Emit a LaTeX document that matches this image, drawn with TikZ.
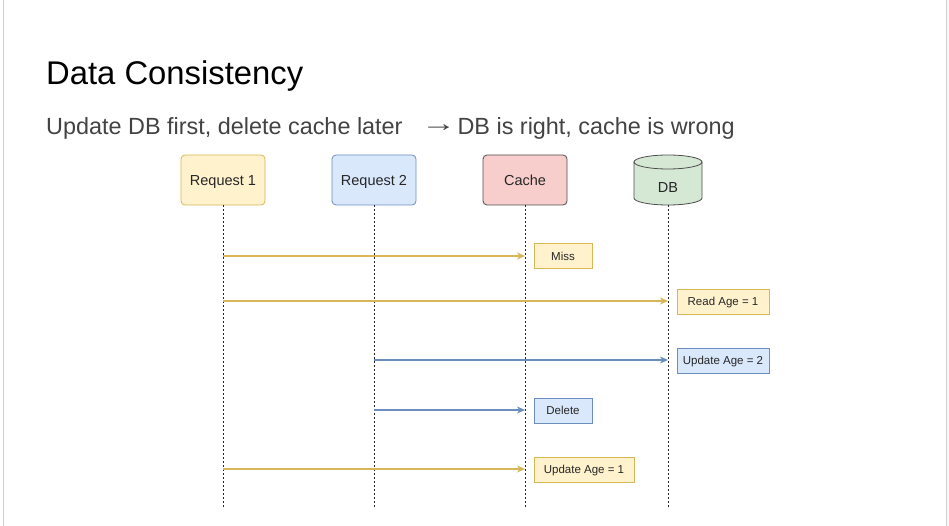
\documentclass[tikz,border=0pt]{standalone}
\usepackage{fontspec}
\setmainfont{Liberation Sans}
\usetikzlibrary{arrows.meta}

\definecolor{ylwfill}{HTML}{FFF2CC}
\definecolor{ylwline}{HTML}{D6B656}
\definecolor{blufill}{HTML}{DAE8FC}
\definecolor{bluline}{HTML}{6C8EBF}
\definecolor{redfill}{HTML}{F8CECC}
\definecolor{grnfill}{HTML}{D5E8D4}
\definecolor{darkline}{HTML}{4D4D4D}
\definecolor{subtext}{HTML}{434343}
\definecolor{framegray}{HTML}{D0D0D0}
\definecolor{sidegray}{HTML}{F8F8F8}

\tikzset{
  actor/.style={rectangle, rounded corners=4pt, minimum width=84pt, minimum height=50pt,
    line width=0.8pt, font=\fontsize{14.5}{17}\selectfont, text=black!85,
    text height=10.4pt, text depth=0pt},
  lifeline/.style={draw=black!85, line width=0.7pt, dash pattern=on 2pt off 2pt},
  msg/.style={line width=1.1pt, -{Stealth[length=8pt,width=7pt,inset=2.5pt]}},
  msgy/.style={msg, draw=ylwline, color=ylwline},
  msgb/.style={msg, draw=bluline, color=bluline},
  note/.style={rectangle, minimum height=25pt, line width=0.8pt,
    font=\fontsize{11.5}{13}\selectfont, text=black!85, inner sep=0pt,
    text height=8.2pt, text depth=0pt},
  notey/.style={note, fill=ylwfill, draw=ylwline},
  noteb/.style={note, fill=blufill, draw=bluline},
}

\begin{document}
\begin{tikzpicture}[x=1pt, y=-1pt]
  \useasboundingbox (0,0) rectangle (949,526);
  % page background and side frame
  \fill[white] (0,0) rectangle (949,526);
  \fill[sidegray] (946,0) rectangle (949,526);
  \draw[framegray, line width=1pt] (3,0) -- (3,526);
  \draw[framegray, line width=1pt] (946,0) -- (946,526);

  % headings
  \node[anchor=base west, inner sep=0pt, font=\fontsize{32.8}{38}\selectfont] (title) at (46,85) {Data Consistency};
  \node[anchor=base west, inner sep=0pt, text=subtext, font=\fontsize{23.4}{28}\selectfont] (sub) at (46,135)
    {Update DB first, delete cache later\hspace{22pt}\makebox[28pt][c]{\raisebox{3pt}{\scalebox{1.5}[1]{→}}}\hspace{5pt}DB is right, cache is wrong};

  % participants
  \node[actor, fill=ylwfill, draw=ylwline] (r1) at (223,180) {Request 1};
  \node[actor, fill=blufill, draw=bluline] (r2) at (374,180) {Request 2};
  \node[actor, fill=redfill, draw=darkline] (cache) at (525,180) {Cache};

  % database cylinder
  \fill[grnfill] (634,162) -- (634,198) arc[start angle=180, end angle=0, x radius=34, y radius=7]
    -- (702,162) arc[start angle=0, end angle=-180, x radius=34, y radius=7] -- cycle;
  \draw[darkline, line width=0.8pt] (634,162) -- (634,198) arc[start angle=180, end angle=0, x radius=34, y radius=7]
    -- (702,162);
  \draw[darkline, line width=0.8pt] (668,162) ellipse[x radius=34, y radius=7];
  \node[font=\fontsize{14.5}{17}\selectfont, text=black!85, text height=10.4pt, text depth=0pt] (db) at (668,187) {DB};
  \coordinate (dbbot) at (668,205);

  % lifeline ends
  \coordinate (r1end) at (223,507);
  \coordinate (r2end) at (374,507);
  \coordinate (cacheend) at (525,507);
  \coordinate (dbend) at (668,507);

  \draw[lifeline] (r1.south) -- (r1end);
  \draw[lifeline] (r2.south) -- (r2end);
  \draw[lifeline] (cache.south) -- (cacheend);
  \draw[lifeline] (dbbot) -- (dbend);

  % message anchors on the lifelines
  \coordinate (a1) at (223,256); \coordinate (b1) at (525,256);
  \coordinate (a2) at (223,301); \coordinate (b2) at (668,301);
  \coordinate (a3) at (374,360); \coordinate (b3) at (668,360);
  \coordinate (a4) at (374,410); \coordinate (b4) at (525,410);
  \coordinate (a5) at (223,469); \coordinate (b5) at (525,469);

  \draw[msgy] (a1) -- (b1);
  \draw[msgy] (a2) -- (b2);
  \draw[msgb] (a3) -- (b3);
  \draw[msgb] (a4) -- (b4);
  \draw[msgy] (a5) -- (b5);

  % message notes
  \node[notey, minimum width=58pt] (n1) at (563,256) {Miss};
  \node[notey, minimum width=92pt] (n2) at (723,301.5) {Read Age = 1};
  \node[noteb, minimum width=92pt] (n3) at (723,360.5) {Update Age = 2};
  \node[noteb, minimum width=58pt] (n4) at (563,410.5) {Delete};
  \node[notey, minimum width=100pt] (n5) at (584,469.5) {Update Age = 1};
\end{tikzpicture}
\end{document}
